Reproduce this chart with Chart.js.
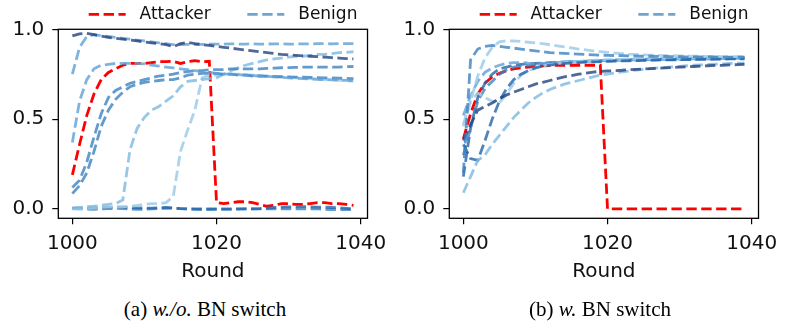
<!DOCTYPE html>
<html>
<head>
<meta charset="utf-8">
<script src="https://cdn.jsdelivr.net/npm/chart.js@4.4.1/dist/chart.umd.min.js"></script>
<style>
body { margin: 0; background: #fff; width: 788px; height: 323px; position: relative; overflow: hidden; }
canvas { position: absolute; top: 0; }
#chartA { left: 0; }
#chartB { left: 391px; }
.cap { position: absolute; top: 297px; font-family: 'Liberation Serif', 'Times New Roman', serif; font-size: 21px; color: #000; white-space: nowrap; transform: translateX(-50%); }
</style>
</head>
<body>
<canvas id="chartA" width="394" height="290"></canvas>
<canvas id="chartB" width="394" height="290"></canvas>
<div class="cap" style="left:205px">(a) <i>w./o.</i> BN switch</div>
<div class="cap" style="left:600px">(b) <i>w.</i> BN switch</div>
<script>
// rounds on the x axis
var rounds = [1000,1001,1002,1003,1004,1005,1006,1007,1008,1009,
              1010,1011,1012,1013,1014,1015,1016,1017,1018,1019,
              1020,1021,1022,1023,1024,1025,1026,1027,1028,1029,
              1030,1031,1032,1033,1034,1035,1036,1037,1038,1039];
var xTicks = [1000, 1020, 1040];
var yTicks = [0, 0.5, 1.0];

// (a) w/o BN switch
var attackerA = [0.19,0.36,0.52,0.64,0.72,0.76,0.78,0.80,0.81,0.81,
                 0.81,0.815,0.82,0.82,0.822,0.81,0.82,0.826,0.82,0.822,
                 0.035,0.03,0.035,0.04,0.04,0.035,0.025,0.015,0.02,0.03,
                 0.03,0.025,0.025,0.03,0.035,0.035,0.03,0.03,0.025,0.02];
var benignA1 = [0.963,0.975,0.978,0.97,0.962,0.955,0.95,0.945,0.94,0.935,
                0.93,0.925,0.92,0.915,0.903,0.92,0.928,0.92,0.915,0.91,
                0.905,0.9,0.895,0.89,0.885,0.88,0.875,0.87,0.865,0.86,
                0.857,0.855,0.852,0.85,0.848,0.845,0.842,0.84,0.837,0.835];
var benignA2 = [0.75,0.9,0.96,0.97,0.965,0.96,0.955,0.95,0.945,0.94,
                0.935,0.93,0.925,0.92,0.915,0.915,0.916,0.915,0.916,0.917,
                0.918,0.918,0.919,0.918,0.918,0.919,0.918,0.918,0.919,0.919,
                0.918,0.918,0.919,0.919,0.92,0.92,0.919,0.92,0.92,0.92];
var benignA3 = [0.37,0.6,0.72,0.78,0.80,0.805,0.81,0.81,0.81,0.81,
                0.808,0.80,0.795,0.79,0.785,0.78,0.775,0.77,0.765,0.76,
                0.755,0.752,0.75,0.748,0.745,0.742,0.74,0.738,0.735,0.733,
                0.73,0.728,0.726,0.724,0.722,0.72,0.719,0.718,0.716,0.715];
var benignA4 = [0.12,0.16,0.26,0.40,0.53,0.62,0.66,0.68,0.70,0.71,
                0.72,0.73,0.74,0.745,0.75,0.76,0.765,0.77,0.77,0.775,
                0.775,0.775,0.78,0.78,0.78,0.78,0.78,0.782,0.784,0.786,
                0.787,0.788,0.789,0.79,0.79,0.79,0.79,0.79,0.792,0.793];
var benignA5 = [0.085,0.13,0.2,0.32,0.46,0.55,0.61,0.65,0.68,0.695,
                0.705,0.71,0.715,0.72,0.72,0.73,0.745,0.75,0.755,0.755,
                0.755,0.75,0.75,0.745,0.745,0.74,0.74,0.738,0.737,0.736,
                0.735,0.734,0.733,0.732,0.731,0.73,0.729,0.728,0.727,0.726];
var benignA6 = [0.005,0.008,0.012,0.015,0.02,0.025,0.03,0.05,0.33,0.45,
                0.51,0.55,0.57,0.6,0.63,0.68,0.71,0.715,0.72,0.725,
                0.73,0.75,0.77,0.785,0.8,0.81,0.82,0.83,0.835,0.84,
                0.845,0.85,0.85,0.855,0.86,0.86,0.865,0.87,0.872,0.875];
var benignA7 = [0.0,0.0,0.003,0.005,0.008,0.01,0.01,0.012,0.015,0.02,
                0.025,0.03,0.03,0.035,0.07,0.32,0.44,0.55,0.73,0.745,
                0.745,0.748,0.75,0.75,0.748,0.745,0.742,0.74,0.738,0.735,
                0.732,0.73,0.728,0.725,0.722,0.72,0.718,0.716,0.714,0.712];
var benignA8 = [0.005,0.005,0.005,0.006,0.007,0.008,0.01,0.01,0.008,0.006,
                0.005,0.005,0.006,0.008,0.005,0.002,0.0,0.0,0.0,0.0,
                0.0,0.0,0.0,0.0,0.0,0.0,0.002,0.005,0.008,0.01,
                0.012,0.012,0.013,0.012,0.01,0.01,0.008,0.006,0.003,0.0];
var benignA9 = [0.002,0.0,0.0,-0.002,0.0,0.002,0.003,0.002,0.0,-0.002,
                -0.002,0.0,0.002,0.005,0.004,0.002,0.0,-0.002,-0.003,-0.003,
                -0.002,-0.002,-0.002,-0.001,0.0,0.0,0.0,0.0,0.0,0.0,
                0.0,0.0,0.0,0.0,0.0,-0.002,-0.003,-0.003,-0.004,-0.004];

// (b) w/ BN switch
var attackerB = [0.39,0.53,0.64,0.70,0.735,0.755,0.77,0.78,0.785,0.79,
                 0.793,0.796,0.798,0.80,0.80,0.80,0.80,0.80,0.80,0.80,
                 0,0,0,0,0,0,0,0,0,0,
                 0,0,0,0,0,0,0,0,0,0];
var benignB1 = [0.2,0.83,0.89,0.905,0.91,0.905,0.9,0.895,0.89,0.885,
                0.88,0.875,0.87,0.868,0.866,0.864,0.862,0.86,0.858,0.856,
                0.855,0.854,0.853,0.852,0.851,0.85,0.85,0.849,0.849,0.848,
                0.848,0.847,0.847,0.846,0.846,0.846,0.845,0.845,0.845,0.845];
var benignB2 = [0.46,0.6,0.74,0.84,0.9,0.93,0.937,0.935,0.932,0.928,
                0.924,0.92,0.914,0.908,0.902,0.896,0.89,0.885,0.88,0.876,
                0.872,0.868,0.865,0.862,0.86,0.858,0.856,0.855,0.854,0.853,
                0.852,0.851,0.85,0.85,0.849,0.849,0.848,0.848,0.848,0.848];
var benignB3 = [0.38,0.47,0.55,0.57,0.59,0.615,0.635,0.65,0.665,0.68,
                0.695,0.705,0.715,0.725,0.735,0.742,0.75,0.756,0.762,0.766,
                0.768,0.77,0.772,0.775,0.777,0.779,0.781,0.783,0.785,0.787,
                0.789,0.791,0.793,0.795,0.797,0.799,0.8,0.802,0.803,0.805];
var benignB4 = [0.09,0.18,0.27,0.3,0.36,0.41,0.46,0.51,0.55,0.59,
                0.62,0.645,0.665,0.68,0.695,0.705,0.715,0.725,0.735,0.745,
                0.75,0.757,0.763,0.768,0.773,0.777,0.781,0.785,0.788,0.791,
                0.794,0.797,0.8,0.802,0.804,0.806,0.808,0.81,0.811,0.812];
var benignB5 = [0.36,0.28,0.27,0.38,0.5,0.6,0.67,0.72,0.75,0.77,
                0.785,0.795,0.8,0.805,0.81,0.812,0.815,0.817,0.819,0.82,
                0.822,0.823,0.824,0.825,0.826,0.827,0.828,0.829,0.83,0.83,
                0.831,0.832,0.832,0.833,0.833,0.834,0.834,0.835,0.835,0.836];
var benignB6 = [0.47,0.6,0.645,0.62,0.6,0.59,0.64,0.7,0.745,0.77,
                0.785,0.795,0.805,0.81,0.815,0.82,0.822,0.825,0.827,0.83,
                0.83,0.832,0.833,0.834,0.835,0.836,0.837,0.838,0.839,0.84,
                0.84,0.841,0.842,0.842,0.843,0.843,0.844,0.844,0.845,0.845];
var benignB7 = [0.52,0.63,0.71,0.76,0.785,0.8,0.81,0.815,0.815,0.812,
                0.81,0.81,0.812,0.815,0.818,0.82,0.822,0.823,0.824,0.825,
                0.826,0.827,0.828,0.829,0.83,0.83,0.831,0.832,0.833,0.833,
                0.834,0.835,0.835,0.836,0.836,0.837,0.837,0.838,0.838,0.839];
var benignB8 = [0.3,0.45,0.6,0.67,0.71,0.75,0.775,0.79,0.797,0.8,
                0.805,0.808,0.81,0.812,0.815,0.817,0.82,0.822,0.824,0.826,
                0.828,0.829,0.83,0.831,0.832,0.833,0.834,0.835,0.836,0.837,
                0.837,0.838,0.839,0.839,0.84,0.84,0.841,0.841,0.842,0.842];
var benignB9 = [0.18,0.45,0.62,0.7,0.75,0.78,0.79,0.8,0.805,0.808,
                0.81,0.812,0.814,0.816,0.818,0.82,0.821,0.822,0.823,0.824,
                0.825,0.826,0.827,0.828,0.829,0.83,0.83,0.831,0.832,0.832,
                0.833,0.834,0.834,0.835,0.835,0.836,0.836,0.837,0.837,0.838];

// line shades (Blues)
var NAVY = 'rgba(30,62,122,0.78)';
var DARK = 'rgba(38,100,170,0.8)';
var MED = 'rgba(60,130,192,0.8)';
var MIDL = 'rgba(95,160,212,0.8)';
var LIGHT = 'rgba(128,187,225,0.82)';
var PALE = 'rgba(160,206,233,0.88)';
var LEGEND_BLUE = 'rgba(95,155,208,0.9)';

var benignSetA = [[benignA1, NAVY], [benignA2, MIDL], [benignA3, MIDL], [benignA4, MED], [benignA5, MED],
                  [benignA6, LIGHT], [benignA7, PALE], [benignA8, DARK], [benignA9, MED]];
var benignSetB = [[benignB1, MED], [benignB2, PALE], [benignB3, NAVY], [benignB4, LIGHT], [benignB5, DARK],
                  [benignB6, PALE], [benignB7, MIDL], [benignB8, MED], [benignB9, DARK]];

var LW = 2.8;
var DASH = [10.4, 4.5];
var frame = {
	id: 'frame',
	afterLayout: function(chart) {
		// nudge the legend to where matplotlib puts it
		var lg = chart.legend;
		if (lg) { lg.top += 3.5; lg.bottom += 3.5; lg.left += 34.7; lg.right += 34.7; }
	},
	afterDatasetsDraw: function(chart) {
		var a = chart.chartArea, ctx = chart.ctx;
		ctx.save();
		ctx.strokeStyle = '#000';
		ctx.lineWidth = 1.3;
		ctx.strokeRect(a.left, a.top, a.right - a.left, a.bottom - a.top);
		ctx.restore();
	}
};

function makeChart(id, attacker, benignSet) {
	var ds = [{
		label: 'Attacker', data: attacker, borderColor: '#ff0000', backgroundColor: '#ff0000',
		borderWidth: LW, borderDash: DASH, pointRadius: 0, tension: 0, order: 1
	}];
	benignSet.forEach(function(b) {
		ds.push({
			label: 'Benign', data: b[0], borderColor: b[1], backgroundColor: b[1],
			borderWidth: LW, borderDash: DASH, pointRadius: 0, tension: 0, order: 0
		});
	});
	var tickFont = { family: 'DejaVu Sans', size: 20 };
	return new Chart(document.getElementById(id), {
		type: 'line',
		data: { labels: rounds, datasets: ds },
		options: {
			responsive: false, animation: false, devicePixelRatio: 1,
			layout: { padding: { top: -34.3, left: 0, right: 17.3, bottom: 0 } },
			plugins: {
				tooltip: { enabled: false },
				legend: {
					position: 'top', fullSize: true,
					labels: {
						usePointStyle: true, pointStyle: 'line', pointStyleWidth: 37, boxHeight: 17,
						padding: 36.6, color: '#111', font: { family: 'DejaVu Sans', size: 17 },
						generateLabels: function(chart) {
							var items = Chart.defaults.plugins.legend.labels.generateLabels(chart);
							items = items.filter(function(it) { return it.datasetIndex <= 1; });
							items.sort(function(p, q) { return p.datasetIndex - q.datasetIndex; });
							items.forEach(function(it) {
								it.text = ' ' + it.text;
								it.lineDash = DASH;
								it.lineWidth = LW;
								if (it.datasetIndex === 1) it.strokeStyle = LEGEND_BLUE;
							});
							return items;
						}
					}
				}
			},
			scales: {
				x: {
					type: 'linear', min: 998.05, max: 1040.95,
					afterBuildTicks: function(s) { s.ticks = xTicks.map(function(v) { return { value: v }; }); },
					afterFit: function(s) { s.height = 71.7; },
					ticks: { font: tickFont, color: '#111', padding: 7.5, maxRotation: 0,
						callback: function(v) { return String(v); } },
					grid: { display: true, drawOnChartArea: false, drawTicks: true, tickLength: 6, color: '#000', lineWidth: 1.2 },
					border: { display: false },
					title: { display: true, text: 'Round', font: tickFont, color: '#111', padding: { top: 0, bottom: 6.5 } }
				},
				y: {
					type: 'linear', min: -0.052, max: 1.0,
					afterBuildTicks: function(s) { s.ticks = yTicks.map(function(v) { return { value: v }; }); },
					afterFit: function(s) { s.width = 58.3; },
					ticks: { font: tickFont, color: '#111', padding: 8,
						callback: function(v) { return v.toFixed(1); } },
					grid: { display: true, drawOnChartArea: false, drawTicks: true, tickLength: 6, color: '#000', lineWidth: 1.2 },
					border: { display: false }
				}
			}
		},
		plugins: [frame]
	});
}

makeChart('chartA', attackerA, benignSetA);
makeChart('chartB', attackerB, benignSetB);
</script>
</body>
</html>
